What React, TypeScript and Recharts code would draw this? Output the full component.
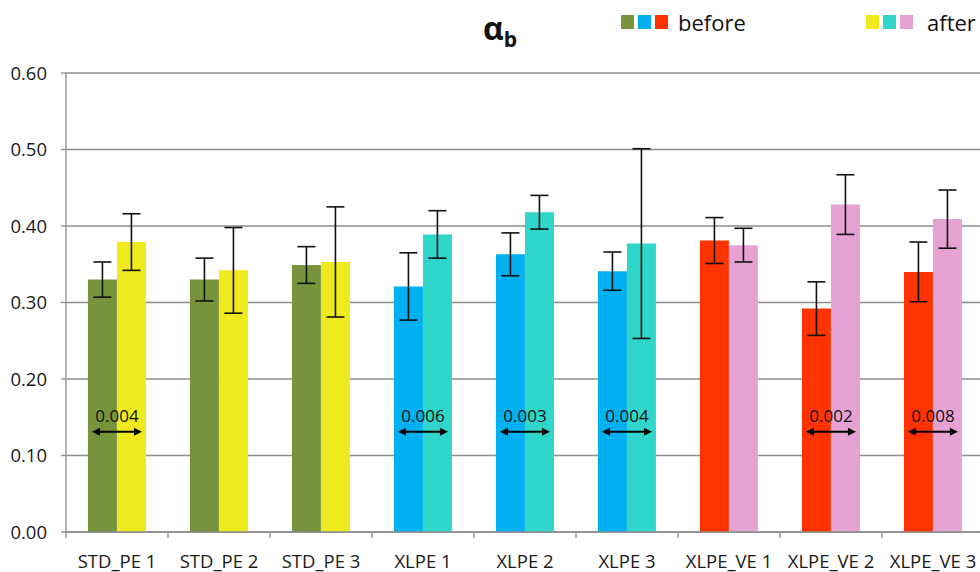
import React from 'react';
import { BarChart, Bar, XAxis, YAxis, CartesianGrid, ErrorBar, Cell, LabelList } from 'recharts';

const categories = ['STD_PE 1', 'STD_PE 2', 'STD_PE 3', 'XLPE 1', 'XLPE 2', 'XLPE 3', 'XLPE_VE 1', 'XLPE_VE 2', 'XLPE_VE 3'];
const beforeValues = [0.33, 0.33, 0.349, 0.321, 0.363, 0.341, 0.381, 0.292, 0.34];
const beforeErrors = [0.023, 0.028, 0.024, 0.044, 0.028, 0.025, 0.03, 0.035, 0.039];
const afterValues = [0.379, 0.342, 0.353, 0.389, 0.418, 0.377, 0.375, 0.428, 0.409];
const afterErrors = [0.037, 0.056, 0.072, 0.031, 0.022, 0.124, 0.022, 0.039, 0.038];
const pValues = ['0.004', '', '', '0.006', '0.003', '0.004', '', '0.002', '0.008'];
const beforeColors = ['#77933C', '#77933C', '#77933C', '#00B0F0', '#00B0F0', '#00B0F0', '#FF3300', '#FF3300', '#FF3300'];
const afterColors = ['#EEEA1E', '#EEEA1E', '#EEEA1E', '#30D6C9', '#30D6C9', '#30D6C9', '#E6A2D2', '#E6A2D2', '#E6A2D2'];
const yTicks = [0, 0.1, 0.2, 0.3, 0.4, 0.5, 0.6];
const pArrowLevel = 0.131;
const pTextLevel = 0.152;

const data = categories.map((name, i) => ({
  name,
  before: beforeValues[i],
  beforeErr: beforeErrors[i],
  after: afterValues[i],
  afterErr: afterErrors[i],
  p: pValues[i],
}));

const CHART_W = 984;
const CHART_H = 572;
const Y_AXIS_W = 66;
const BAND = (CHART_W - Y_AXIS_W) / categories.length;
const FONT = '"Open Sans", "Liberation Sans", sans-serif';
const GRID = '#8c8c8c';

const CategoryTick = (props: any) => {
  const { x, y, payload } = props;
  const axisY = y - 10;
  const bx = x - BAND / 2;
  return (
    <g>
      <line x1={bx} x2={bx} y1={axisY} y2={axisY + 6} stroke={GRID} strokeWidth={1.3} />
      <text x={x} y={axisY + 28} textAnchor="middle" dominantBaseline="central" fontFamily={FONT} fontSize={18.5} fill="#1a1a1a">
        {payload.value}
      </text>
    </g>
  );
};

const PLabel = (props: any) => {
  const vb = props.viewBox || props;
  const x = props.x ?? vb.x;
  const y = props.y ?? vb.y;
  const height = props.height ?? vb.height;
  const index = props.index;
  const label = pValues[index];
  if (!label) return null;
  const v = afterValues[index];
  const ppu = height / v;
  const bottom = y + height;
  const ay = bottom - pArrowLevel * ppu;
  const ty = bottom - pTextLevel * ppu;
  const cx = x;
  const half = 25;
  return (
    <g>
      <text x={cx} y={ty} textAnchor="middle" dominantBaseline="central" fontFamily={FONT} fontSize={17} fill="#111">
        {label}
      </text>
      <line x1={cx - half + 5} x2={cx + half - 5} y1={ay} y2={ay} stroke="#000" strokeWidth={2} />
      <polygon points={`${cx - half},${ay} ${cx - half + 8},${ay - 4} ${cx - half + 8},${ay + 4}`} fill="#000" />
      <polygon points={`${cx + half},${ay} ${cx + half - 8},${ay - 4} ${cx + half - 8},${ay + 4}`} fill="#000" />
    </g>
  );
};

const Square = ({ color }: { color: string }) => (
  <span style={{ display: 'inline-block', width: 13, height: 14, background: color, marginRight: 4 }} />
);

export default function App() {
  return (
    <div style={{ position: 'absolute', left: 0, top: 0, width: 980, height: 572, overflow: 'hidden', background: '#fff' }}>
      <BarChart
        width={CHART_W}
        height={CHART_H}
        data={data}
        margin={{ top: 73, right: 0, left: 0, bottom: 0 }}
        barCategoryGap="21.5%"
        barGap={0}
      >
        <CartesianGrid vertical={false} stroke={GRID} strokeWidth={1.3} />
        <XAxis
          dataKey="name"
          height={40}
          tickLine={false}
          tickSize={6}
          tickMargin={4}
          axisLine={{ stroke: GRID, strokeWidth: 1.3 }}
          tick={<CategoryTick />}
          interval={0}
        />
        <YAxis
          width={Y_AXIS_W}
          domain={[0, 0.6]}
          ticks={yTicks}
          tickFormatter={(v: number) => v.toFixed(2)}
          tickSize={5}
          tickMargin={14}
          axisLine={{ stroke: GRID, strokeWidth: 1.3 }}
          tickLine={{ stroke: GRID, strokeWidth: 1.3 }}
          tick={{ fontFamily: FONT, fontSize: 18.5, fill: '#1a1a1a' }}
        />
        <Bar dataKey="before" isAnimationActive={false}>
          {data.map((d, i) => (
            <Cell key={d.name} fill={beforeColors[i]} />
          ))}
          <ErrorBar dataKey="beforeErr" width={9} stroke="#111" strokeWidth={1.6} direction="y" />
        </Bar>
        <Bar dataKey="after" isAnimationActive={false}>
          {data.map((d, i) => (
            <Cell key={d.name} fill={afterColors[i]} />
          ))}
          <ErrorBar dataKey="afterErr" width={9} stroke="#111" strokeWidth={1.6} direction="y" />
          <LabelList dataKey="p" content={<PLabel />} />
        </Bar>
      </BarChart>
      <div style={{ position: 'absolute', left: 483, top: 8, fontFamily: FONT, fontWeight: 700, fontSize: 32, color: '#111', lineHeight: '40px' }}>
        α<span style={{ fontSize: 21, position: 'relative', top: 7 }}>b</span>
      </div>
      <div style={{ position: 'absolute', left: 621, top: 6, fontFamily: FONT, fontSize: 22, color: '#111', display: 'flex', alignItems: 'center', height: 32 }}>
        <Square color={beforeColors[0]} />
        <Square color={beforeColors[3]} />
        <Square color={beforeColors[6]} />
        <span style={{ marginLeft: 6 }}>before</span>
      </div>
      <div style={{ position: 'absolute', left: 866, top: 6, fontFamily: FONT, fontSize: 22, color: '#111', display: 'flex', alignItems: 'center', height: 32 }}>
        <Square color={afterColors[0]} />
        <Square color={afterColors[3]} />
        <Square color={afterColors[6]} />
        <span style={{ marginLeft: 10 }}>after</span>
      </div>
    </div>
  );
}
